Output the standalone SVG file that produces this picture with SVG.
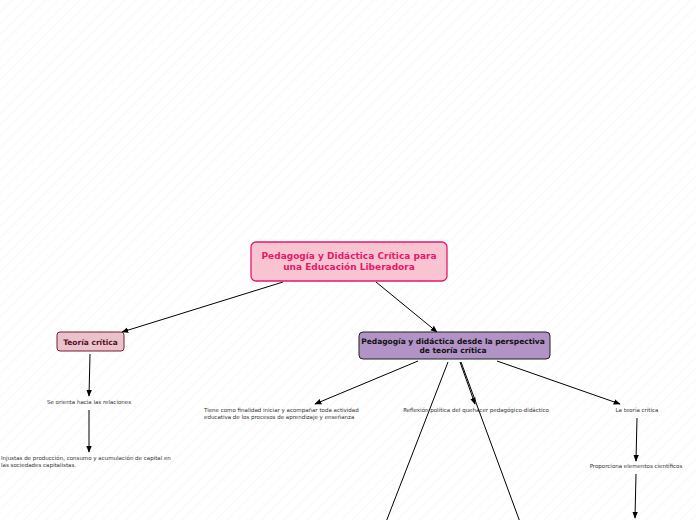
<svg xmlns="http://www.w3.org/2000/svg" width="696" height="520" viewBox="0 0 696 520">
<defs>
<marker id="a" viewBox="0 0 10 10" refX="9" refY="5" markerWidth="7" markerHeight="7" orient="auto"><path d="M0,1 L10,5 L0,9 z" fill="#000"/></marker>
<pattern id="bg" width="8" height="8" patternUnits="userSpaceOnUse" patternTransform="rotate(-45)"><rect width="8" height="8" fill="#fff"/><line x1="0" y1="0" x2="8" y2="0" stroke="#f2f2f2" stroke-width="1"/></pattern>
</defs>
<style>
.t{font-family:"DejaVu Sans",sans-serif;font-size:5.5px;fill:#333}
.b{font-family:"DejaVu Sans",sans-serif;font-weight:bold}
.c line{stroke:#000;stroke-width:1;marker-end:url(#a)}
</style>
<rect width="696" height="520" fill="url(#bg)"/>
<g class="c">
<line x1="283" y1="282" x2="122" y2="332"/>
<line x1="376" y1="282" x2="437" y2="332"/>
<line x1="90" y1="354" x2="89" y2="396"/>
<line x1="89" y1="410" x2="89" y2="452"/>
<line x1="418" y1="361" x2="315" y2="404"/>
<line x1="448" y1="362" x2="386" y2="522" style="marker-end:none"/>
<line x1="460" y1="362" x2="475" y2="404"/>
<line x1="461" y1="362" x2="520" y2="522" style="marker-end:none"/>
<line x1="497" y1="361" x2="620" y2="404"/>
<line x1="637" y1="418" x2="636" y2="461"/>
<line x1="636" y1="474" x2="635" y2="518"/>
</g>
<g id="root"><rect x="251" y="242" width="196" height="39" rx="5" fill="#f8c4d2" stroke="#e8176a" stroke-width="1.3"/>
<text class="b" font-size="9" fill="#e8176a" text-anchor="middle"><tspan x="349" y="259">Pedagogía y Didáctica Crítica para</tspan><tspan x="349" y="270">una Educación Liberadora</tspan></text></g>
<g id="teoria"><rect x="57" y="332" width="67" height="19" rx="3" fill="#e9c3cb" stroke="#7a1a35" stroke-width="1"/>
<text class="b" font-size="7.5" fill="#5a1026" x="90.5" y="344.5" text-anchor="middle">Teoría crítica</text></g>
<g id="ped"><rect x="359" y="332" width="191" height="27" rx="4" fill="#b193c6" stroke="#222" stroke-width="1"/>
<text class="b" font-size="7.5" fill="#111" text-anchor="middle"><tspan x="453" y="344">Pedagogía y didáctica desde la perspectiva</tspan><tspan x="453" y="353">de teoría crítica</tspan></text></g>
<g id="n1"><text class="t" x="89" y="404" text-anchor="middle">Se orienta hacia las relaciones</text></g>
<g id="n2"><text class="t"><tspan x="1" y="460">Injustas de producción, consumo y acumulación de capital en</tspan><tspan x="1" y="467">las sociedades capitalistas.</tspan></text></g>
<g id="n3"><text class="t"><tspan x="204" y="412">Tiene como finalidad iniciar y acompañar toda actividad</tspan><tspan x="204" y="419">educativa de los procesos de aprendizaje y enseñanza</tspan></text></g>
<g id="n4"><text class="t" x="476" y="412" text-anchor="middle">Reflexión política del quehacer pedagógico-didáctico</text></g>
<g id="n5"><text class="t" x="637" y="412" text-anchor="middle">La teoría crítica</text></g>
<g id="n6"><text class="t" x="636" y="468" text-anchor="middle">Proporciona elementos científicos</text></g>
</svg>
